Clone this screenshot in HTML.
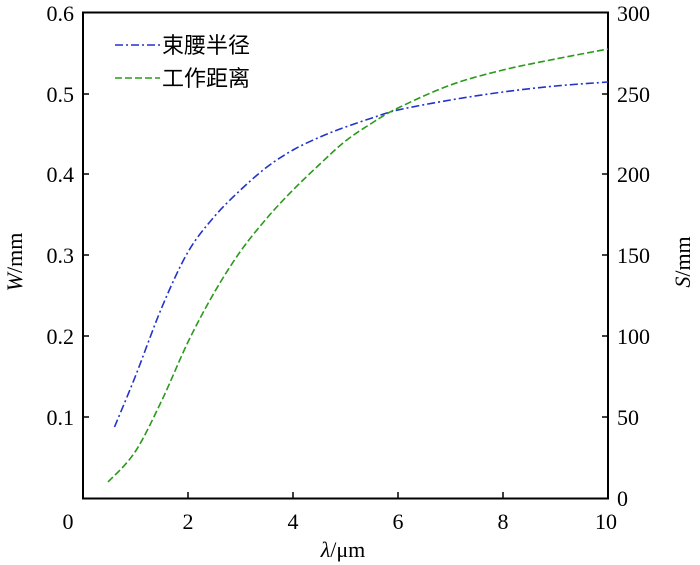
<!DOCTYPE html>
<html><head><meta charset="utf-8"><style>body{margin:0;background:#fff}svg{display:block}</style></head><body>
<svg id="s" width="700" height="565" viewBox="0 0 700 565" xmlns="http://www.w3.org/2000/svg" font-family="'Liberation Serif','Noto Serif CJK SC',serif" font-size="22" fill="#000">
<rect x="83" y="12.5" width="525" height="486" fill="none" stroke="#000" stroke-width="2"/>
<g stroke="#000" stroke-width="1.5">
<line x1="83" y1="417" x2="89" y2="417"/><line x1="83" y1="336" x2="89" y2="336"/><line x1="83" y1="255" x2="89" y2="255"/><line x1="83" y1="174" x2="89" y2="174"/><line x1="83" y1="94" x2="89" y2="94"/>
<line x1="608" y1="417" x2="602" y2="417"/><line x1="608" y1="336" x2="602" y2="336"/><line x1="608" y1="255" x2="602" y2="255"/><line x1="608" y1="174" x2="602" y2="174"/><line x1="608" y1="94" x2="602" y2="94"/>
<line x1="188" y1="498" x2="188" y2="492"/><line x1="293" y1="498" x2="293" y2="492"/><line x1="398" y1="498" x2="398" y2="492"/><line x1="503" y1="498" x2="503" y2="492"/>
</g>
<g text-anchor="end">
<text x="74" y="425">0.1</text><text x="74" y="344">0.2</text><text x="74" y="263">0.3</text><text x="74" y="182">0.4</text><text x="74" y="102">0.5</text><text x="74" y="21">0.6</text>
</g>
<g text-anchor="start">
<text x="617" y="506">0</text><text x="617" y="425">50</text><text x="617" y="344">100</text><text x="617" y="263">150</text><text x="617" y="182">200</text><text x="617" y="102">250</text><text x="617" y="21">300</text>
</g>
<g text-anchor="middle">
<text x="68" y="529">0</text><text x="188" y="529">2</text><text x="293" y="529">4</text><text x="398" y="529">6</text><text x="503" y="529">8</text><text x="606" y="529">10</text>
<text x="343" y="557"><tspan font-style="italic">λ</tspan>/μm</text>
<text transform="translate(22,262) rotate(-90)"><tspan font-style="italic">W</tspan>/mm</text>
<text transform="translate(690,262) rotate(-90)"><tspan font-style="italic">S</tspan>/mm</text>
</g>
<path id="b" fill="none" stroke="#2233cc" stroke-width="1.6" stroke-dasharray="8,3,2,3"/>
<path id="g" fill="none" stroke="#2a9a1a" stroke-width="1.6" stroke-dasharray="7,3"/>
<line x1="115" y1="45" x2="160" y2="45" stroke="#2233cc" stroke-width="1.6" stroke-dasharray="8,3,2,3"/>
<line x1="115" y1="78" x2="160" y2="78" stroke="#2a9a1a" stroke-width="1.6" stroke-dasharray="7,3"/>
<text x="162" y="53" font-family="'Liberation Sans','Noto Sans CJK SC',sans-serif">束腰半径</text>
<text x="162" y="86" font-family="'Liberation Sans','Noto Sans CJK SC',sans-serif">工作距离</text>
</svg>
<script>
function cr(p){var d="M"+p[0][0]+","+p[0][1];for(var i=0;i<p.length-1;i++){var a=p[i-1]||p[i],b=p[i],c=p[i+1],e=p[i+2]||c;d+=" C"+(b[0]+(c[0]-a[0])/6)+","+(b[1]+(c[1]-a[1])/6)+" "+(c[0]-(e[0]-b[0])/6)+","+(c[1]-(e[1]-b[1])/6)+" "+c[0]+","+c[1];}return d;}
document.getElementById("b").setAttribute("d",cr([[114.5,427],[135.5,376],[162,307],[188,252],[214,217],[240.5,190],[267,167],[293,150],[320,137],[345.5,127],[372,118],[398,110],[450.5,100],[503,92],[555.5,86],[608,82]]));
document.getElementById("g").setAttribute("d",cr([[108,482],[135,452],[162,400],[188,342],[214,293],[240,252],[267,218],[293,190],[320,164],[345.5,141],[372,123],[398,108],[450.5,85],[503,70],[555.5,59],[608,49]]));
</script>
</body></html>
